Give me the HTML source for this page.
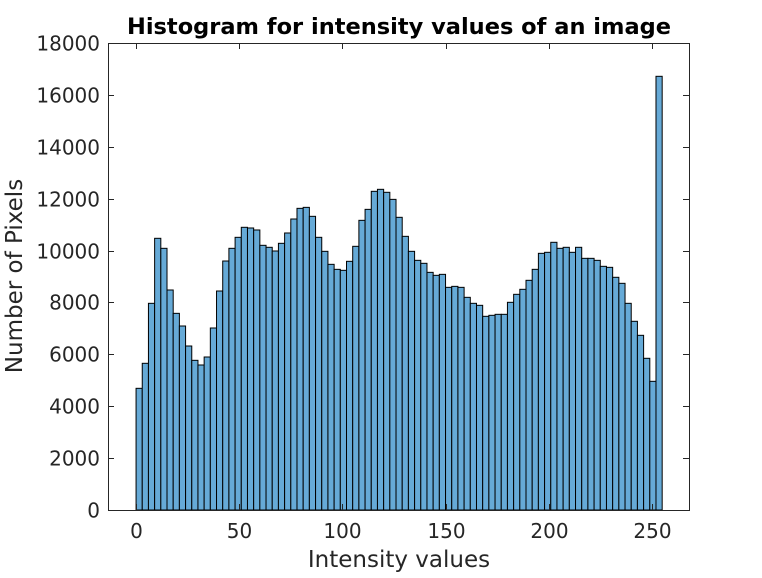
<!DOCTYPE html>
<html><head><meta charset="utf-8"><style>
body{margin:0;background:#fff;}
svg text{font-family:"DejaVu Sans","Liberation Sans",sans-serif;fill:#262626;}
</style></head><body>
<svg id="chart" width="762" height="573" xmlns="http://www.w3.org/2000/svg">
<rect width="762" height="573" fill="#fff"/>
<g id="bars"></g>
<g id="axes"></g>
<text x="399" y="34" text-anchor="middle" font-size="22.5" font-weight="bold" style="fill:#000">Histogram for intensity values of an image</text>
<text x="399" y="567" text-anchor="middle" font-size="23">Intensity values</text>
<text transform="translate(22,276) rotate(-90)" text-anchor="middle" font-size="23">Number of Pixels</text>
</svg>
<script>
const binWidth = 3;
const counts = [4690,5654,7966,10472,10086,8480,7580,7092,6321,5769,5589,5897,7015,8441,9597,10086,10510,10896,10870,10793,10202,10125,9983,10279,10677,11216,11627,11665,11319,10510,9970,9469,9276,9238,9585,10163,11165,11588,12283,12360,12245,11973,11281,10548,9970,9623,9508,9160,9045,9083,8582,8620,8582,8197,7966,7889,7465,7504,7542,7542,8005,8313,8506,8853,9276,9893,9932,10318,10086,10125,9932,10125,9700,9700,9623,9392,9353,8969,8737,7966,7273,6733,5847,4960,16716];
const xTicks = [0,50,100,150,200,250];
const yTicks = [0,2000,4000,6000,8000,10000,12000,14000,16000,18000];
const X0=108,X1=689,Y0=510,Y1=43;
const xMin=-13.6, xMax=268;
function sx(v){return X0+(v-xMin)/(xMax-xMin)*(X1-X0);}
function sy(v){return Y0-(v/18000)*(Y0-Y1);}
const NS="http://www.w3.org/2000/svg";
const bars=document.getElementById('bars');
counts.forEach((c,i)=>{
  const r=document.createElementNS(NS,'rect');
  const xa=sx(i*binWidth), xb=sx((i+1)*binWidth);
  r.setAttribute('x',xa);r.setAttribute('y',sy(c));
  r.setAttribute('width',xb-xa);r.setAttribute('height',Y0-sy(c));
  r.setAttribute('fill','rgb(102,170,215)');r.setAttribute('stroke','#000');r.setAttribute('stroke-width','1');
  
  
  bars.appendChild(r);
});
const ax=document.getElementById('axes');
function line(x1,y1,x2,y2){const l=document.createElementNS(NS,'line');l.setAttribute('x1',x1);l.setAttribute('y1',y1);l.setAttribute('x2',x2);l.setAttribute('y2',y2);l.setAttribute('stroke','#262626');l.setAttribute('stroke-width','1');ax.appendChild(l);return l;}
const box=document.createElementNS(NS,'rect');
box.setAttribute('x',X0+0.5);box.setAttribute('y',Y1+0.5);box.setAttribute('width',X1-X0);box.setAttribute('height',Y0-Y1);
box.setAttribute('fill','none');box.setAttribute('stroke','#262626');


ax.appendChild(box);
xTicks.forEach(v=>{
  const x=Math.round(sx(v))+0.5;
  line(x,Y0,x,Y0-6);line(x,Y1,x,Y1+6);
  const t=document.createElementNS(NS,'text');
  t.setAttribute('x',x);t.setAttribute('y',Y0+28);t.setAttribute('text-anchor','middle');t.setAttribute('font-size','20');
  t.textContent=v;
  
  
  ax.appendChild(t);
});
yTicks.forEach(v=>{
  const y=Math.round(sy(v))+0.5;
  line(X0,y,X0+6,y);line(X1,y,X1-6,y);
  const t=document.createElementNS(NS,'text');
  t.setAttribute('x',X0-8);t.setAttribute('y',y+7);t.setAttribute('text-anchor','end');t.setAttribute('font-size','20');
  t.textContent=v;
  
  
  ax.appendChild(t);
});
</script>
</body></html>
